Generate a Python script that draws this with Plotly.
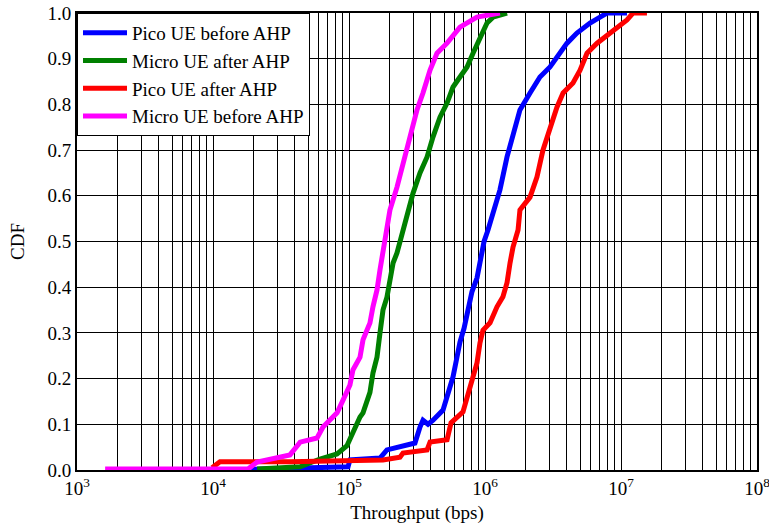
import plotly.graph_objects as go

# Throughput (bps) and CDF values
pico_before_x = [12250, 43700, 98400, 101600, 169000, 190100, 237100, 305500, 332700, 349900,
                 381100, 415000, 490900, 534600, 582100, 622300, 654600, 701500, 749900, 801700,
                 873000, 918300, 984000, 1052000, 1125000, 1288000, 1452000, 1607000, 1807000,
                 2143000, 2535000, 3006000, 3556000, 4009000, 4742000, 5916000, 7015000, 7889000,
                 11070000]
pico_before_y = [0.0, 0.005, 0.007, 0.022, 0.026, 0.044, 0.050, 0.059, 0.094, 0.109,
                 0.100, 0.109, 0.131, 0.164, 0.204, 0.247, 0.280, 0.310, 0.357, 0.390,
                 0.420, 0.460, 0.500, 0.525, 0.553, 0.613, 0.685, 0.737, 0.788,
                 0.825, 0.860, 0.882, 0.912, 0.934, 0.956, 0.978, 0.991, 1.0,
                 1.0]

micro_after_x = [21100, 43700, 61200, 81700, 96600, 106900, 120500, 126800, 142600, 150000,
                 160700, 169000, 177800, 190100, 200000, 210900, 225400, 249500, 266700, 295800,
                 332700, 375000, 415000, 466700, 526000, 582100, 654600, 738000, 816600, 918300,
                 1035000, 1146000, 1452000]
micro_after_y = [0.002, 0.007, 0.024, 0.035, 0.053, 0.083, 0.116, 0.125, 0.170, 0.212,
                 0.247, 0.300, 0.350, 0.378, 0.416, 0.453, 0.475, 0.525, 0.562, 0.606,
                 0.650, 0.685, 0.729, 0.772, 0.803, 0.838, 0.860, 0.882, 0.912, 0.947,
                 0.978, 0.991, 1.0]

pico_after_x = [9840, 11250, 36800, 177800, 237100, 249500, 375000, 394500, 526000, 562300,
                688700, 738000, 801700, 873000, 918300, 966100, 1089000, 1225000, 1355000,
                1452000, 1528000, 1607000, 1750000, 1807000, 2143000, 2410000, 2667000,
                3006000, 3381000, 3750000, 4436000, 5000000, 5623000, 6668000, 7889000,
                9354000, 11070000, 12250000, 15520000]
pico_after_y = [0.005, 0.018, 0.018, 0.022, 0.028, 0.037, 0.044, 0.061, 0.066, 0.103,
                0.127, 0.160, 0.197, 0.234, 0.278, 0.306, 0.322, 0.357, 0.379,
                0.410, 0.453, 0.488, 0.525, 0.569, 0.597, 0.641, 0.700,
                0.751, 0.794, 0.825, 0.847, 0.875, 0.912, 0.934, 0.952,
                0.969, 0.985, 1.0, 1.0]

micro_before_x = [1610, 18100, 21100, 36800, 43700, 58200, 64400, 81700, 90400, 101600,
                  106900, 120500, 126800, 142600, 150000, 160700, 169000, 177800, 190100,
                  200000, 225400, 249500, 281200, 316200, 349900, 394500, 443600, 526000,
                  654600, 873000, 1288000]
micro_before_y = [0.002, 0.002, 0.0175, 0.033, 0.061, 0.070, 0.094, 0.125, 0.153, 0.186,
                  0.219, 0.247, 0.285, 0.322, 0.357, 0.394, 0.438, 0.481, 0.525,
                  0.569, 0.619, 0.672, 0.729, 0.788, 0.825, 0.875, 0.912, 0.934,
                  0.969, 0.991, 1.0]

series = [
    ("Pico UE before AHP", pico_before_x, pico_before_y, "#0000FF"),
    ("Micro UE after AHP", micro_after_x, micro_after_y, "#008000"),
    ("Pico UE after AHP", pico_after_x, pico_after_y, "#FF0000"),
    ("Micro UE before AHP", micro_before_x, micro_before_y, "#FF00FF"),
]

decades = [3, 4, 5, 6, 7, 8]
x_tickvals = [10 ** d for d in decades]
x_ticktext = [f"10<sup>{d}</sup>" for d in decades]
x_minorvals = [m * 10 ** d for d in decades[:-1] for m in range(2, 10)]

y_tickvals = [i / 10 for i in range(11)]

FONT = "Liberation Serif, Times New Roman, serif"
FS = 19

fig = go.Figure()
for name, xs, ys, col in series:
    fig.add_trace(go.Scatter(x=xs, y=ys, mode="lines", name=name,
                             line=dict(color=col, width=5)))

fig.update_layout(
    width=769, height=526,
    margin=dict(l=77, r=12, t=13, b=56),
    paper_bgcolor="white", plot_bgcolor="white",
    font=dict(family=FONT, size=FS, color="black"),
    showlegend=True,
    legend=dict(x=0, y=1, xanchor="left", yanchor="top",
                bgcolor="white", bordercolor="black", borderwidth=1,
                font=dict(family=FONT, size=FS, color="black"),
                tracegroupgap=0, itemwidth=44),
)
fig.update_xaxes(
    type="log", range=[3, 8],
    tickmode="array", tickvals=x_tickvals, ticktext=x_ticktext,
    minor=dict(tickmode="array", tickvals=x_minorvals, showgrid=True,
               gridcolor="black", gridwidth=1, ticks=""),
    showgrid=True, gridcolor="black", gridwidth=1,
    showline=True, linecolor="black", linewidth=2, mirror=True,
    ticks="", zeroline=False, automargin=False, ticklabeloverflow="allow",
    title=dict(text="Throughput (bps)", font=dict(family=FONT, size=FS), standoff=8),
    tickfont=dict(family=FONT, size=FS),
)
fig.update_yaxes(
    range=[0, 1],
    tickmode="array", tickvals=y_tickvals, ticktext=[f"{v:.1f}" for v in y_tickvals],
    showgrid=True, gridcolor="black", gridwidth=1,
    showline=True, linecolor="black", linewidth=2, mirror=True,
    ticks="", zeroline=False, automargin=False, ticklabeloverflow="allow",
    title=dict(text="CDF", font=dict(family=FONT, size=FS), standoff=18),
    tickfont=dict(family=FONT, size=FS),
)

fig.write_html("out.html")
